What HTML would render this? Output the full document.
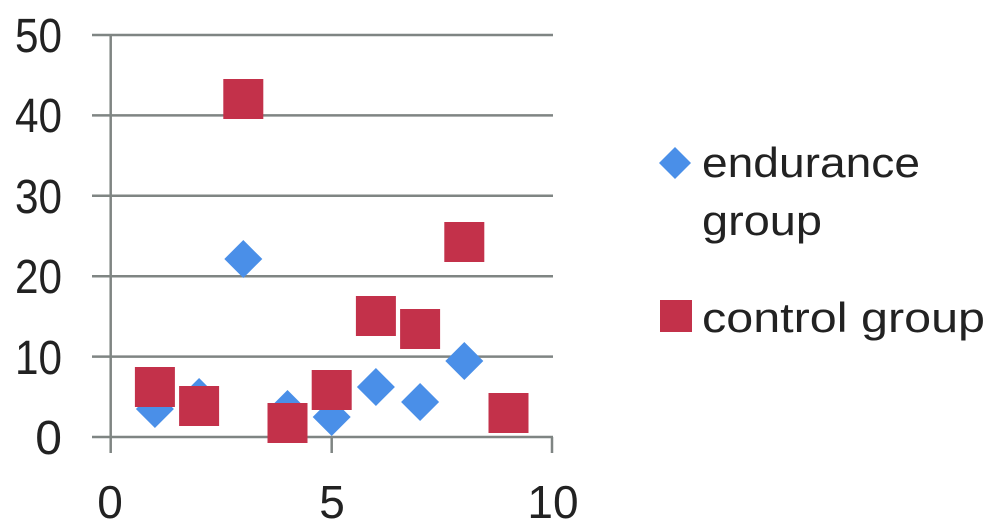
<!DOCTYPE html>
<html><head><style>
body{margin:0;background:#fff}
svg{display:block}
text{font-family:"Liberation Sans",sans-serif;fill:#222}
</style></head><body>
<svg width="993" height="526" viewBox="0 0 993 526">
<g stroke="#7f8583" stroke-width="2.5">
<line x1="92" y1="35" x2="553" y2="35"/>
<line x1="92" y1="115.4" x2="553" y2="115.4"/>
<line x1="92" y1="195.8" x2="553" y2="195.8"/>
<line x1="92" y1="276.2" x2="553" y2="276.2"/>
<line x1="92" y1="356.6" x2="553" y2="356.6"/>
<line x1="92" y1="437" x2="553" y2="437"/>
<line x1="110.7" y1="35" x2="110.7" y2="453"/>
<line x1="331.7" y1="437" x2="331.7" y2="453"/>
<line x1="552" y1="437" x2="552" y2="453"/>
</g>
<g font-size="48" text-anchor="end">
<text x="62" y="52" textLength="47" lengthAdjust="spacingAndGlyphs">50</text>
<text x="62" y="132" textLength="47" lengthAdjust="spacingAndGlyphs">40</text>
<text x="62" y="213" textLength="47" lengthAdjust="spacingAndGlyphs">30</text>
<text x="62" y="293" textLength="47" lengthAdjust="spacingAndGlyphs">20</text>
<text x="62" y="374" textLength="47" lengthAdjust="spacingAndGlyphs">10</text>
<text x="62" y="454">0</text>
</g>
<g font-size="46" text-anchor="middle">
<text x="110" y="518">0</text>
<text x="332" y="518">5</text>
<text x="553" y="518">10</text>
</g>
<g fill="#4a8fe8">
<path d="M154.9 390l19 19-19 19-19-19z"/>
<path d="M199.1 378l19 19-19 19-19-19z"/>
<path d="M243.3 240l19 19-19 19-19-19z"/>
<path d="M287.5 390l19 19-19 19-19-19z"/>
<path d="M331.7 398l19 19-19 19-19-19z"/>
<path d="M375.9 368l19 19-19 19-19-19z"/>
<path d="M420.1 383l19 19-19 19-19-19z"/>
<path d="M464.3 342l19 19-19 19-19-19z"/>
<path d="M675 147l16 16-16 16-16-16z"/>
</g>
<g fill="#c3314a">
<rect x="134.9" y="367" width="40" height="40"/>
<rect x="179.1" y="386" width="40" height="40"/>
<rect x="223.3" y="79" width="40" height="40"/>
<rect x="267.5" y="403" width="40" height="40"/>
<rect x="311.7" y="370" width="40" height="40"/>
<rect x="355.9" y="296" width="40" height="40"/>
<rect x="400.1" y="309" width="40" height="40"/>
<rect x="444.3" y="222" width="40" height="40"/>
<rect x="488.5" y="393" width="40" height="40"/>
<rect x="660" y="300" width="32" height="32"/>
</g>
<g font-size="42">
<text x="702" y="177" textLength="218" lengthAdjust="spacingAndGlyphs">endurance</text>
<text x="702" y="235" textLength="120" lengthAdjust="spacingAndGlyphs">group</text>
<text x="702" y="332" textLength="283" lengthAdjust="spacingAndGlyphs">control group</text>
</g>
</svg>
</body></html>
